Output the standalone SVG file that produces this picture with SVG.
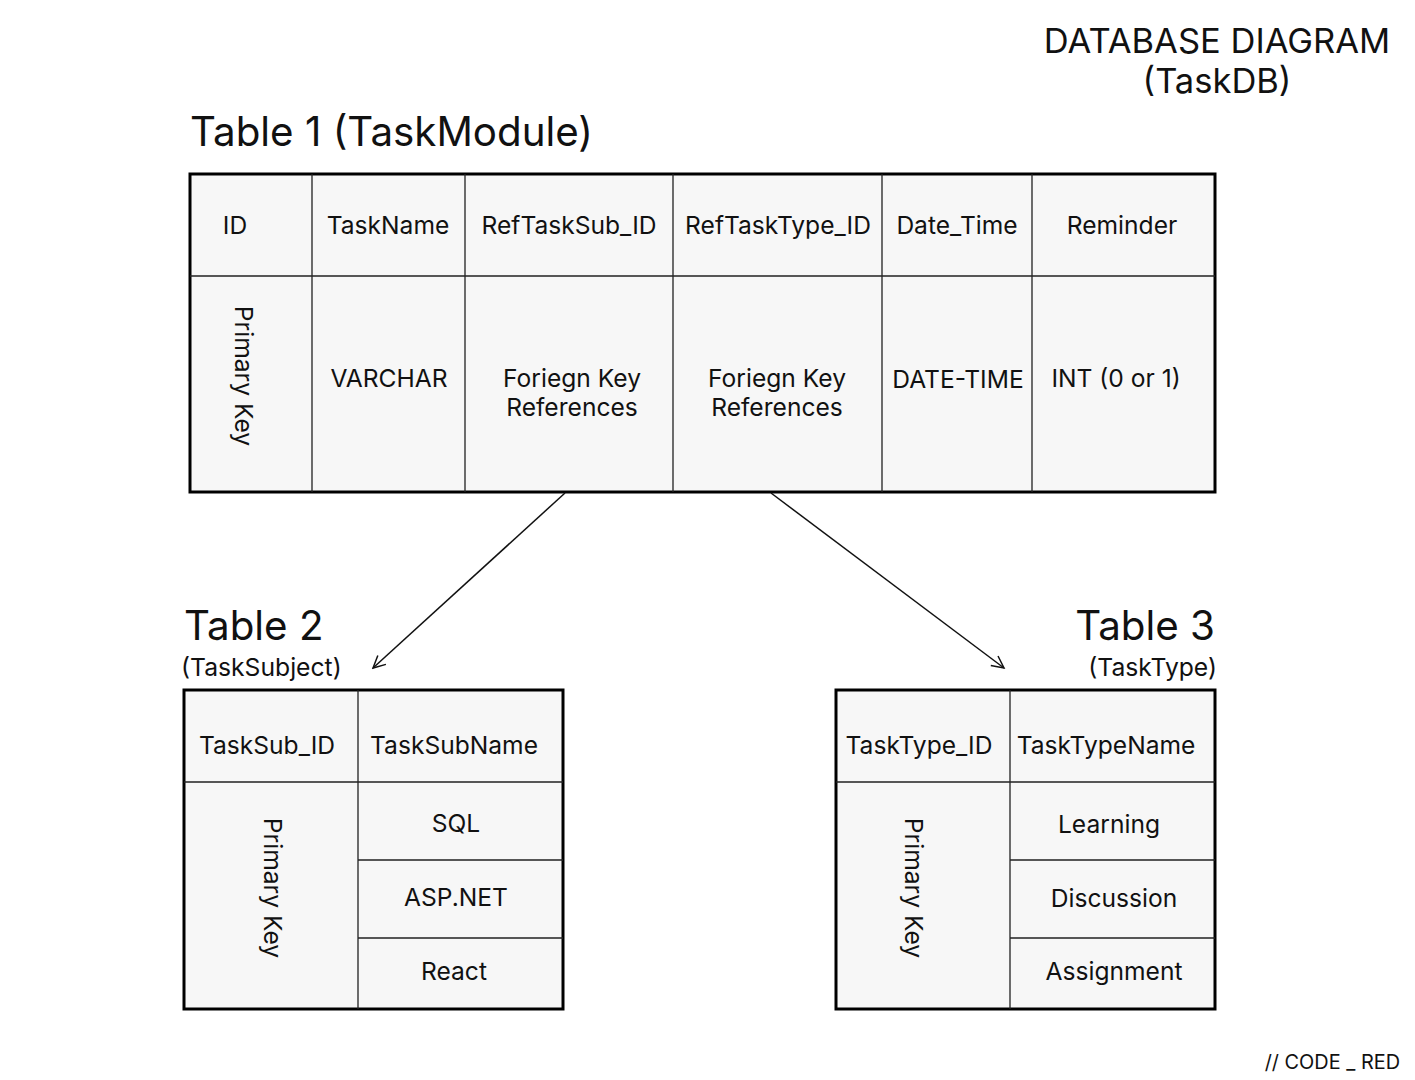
<svg xmlns="http://www.w3.org/2000/svg" width="1415" height="1080" viewBox="0 0 1415 1080">
<defs>
<style>
text{font-family:Inter,"Liberation Sans",sans-serif;fill:#111}
.cell{font-size:24.6px;text-anchor:middle}
.tbl{fill:#f7f7f7;stroke:#000;stroke-width:3}
.ln{stroke:#222;stroke-width:1.3;fill:none}
.title{font-size:40.3px}
.sub{font-size:24.7px}
.conn{stroke:#111;stroke-width:1.5;fill:none}
</style>
<marker id="arr" viewBox="0 0 16 16" refX="14" refY="8" markerWidth="16" markerHeight="16" markerUnits="userSpaceOnUse" orient="auto">
<path d="M2,2 L14,8 L2,14" fill="none" stroke="#111" stroke-width="1.5"/>
</marker>
</defs>
<rect width="1415" height="1080" fill="#fff"/>
<g id="header">
<text x="1217" y="53" font-size="34.5" text-anchor="middle">DATABASE DIAGRAM</text>
<text x="1217" y="93" font-size="34.5" text-anchor="middle">(TaskDB)</text>
</g>
<g id="table1">
<text class="title" x="190" y="146">Table 1 (TaskModule)</text>
<rect class="tbl" x="190" y="174" width="1025" height="318"/>
<path class="ln" d="M190,276H1215M312,174V492M465,174V492M673,174V492M882,174V492M1032,174V492"/>
<text class="cell" x="235" y="234">ID</text>
<text class="cell" x="388" y="234">TaskName</text>
<text class="cell" x="569" y="234">RefTaskSub_ID</text>
<text class="cell" x="778" y="234">RefTaskType_ID</text>
<text class="cell" x="957" y="234">Date_Time</text>
<text class="cell" x="1122" y="234">Reminder</text>
<text class="cell" transform="translate(235,376) rotate(90)">Primary Key</text>
<text class="cell" x="389" y="387">VARCHAR</text>
<text class="cell" x="572" y="387">Foriegn Key</text>
<text class="cell" x="572" y="416">References</text>
<text class="cell" x="777" y="387">Foriegn Key</text>
<text class="cell" x="777" y="416">References</text>
<text class="cell" x="958" y="388">DATE-TIME</text>
<text class="cell" x="1116" y="387">INT (0 or 1)</text>
</g>
<g id="table2">
<text class="title" x="184" y="640">Table 2</text>
<text class="sub" x="181" y="676">(TaskSubject)</text>
<rect class="tbl" x="184" y="690" width="379" height="319"/>
<path class="ln" d="M184,782H563M358,690V1009M358,860H563M358,938H563"/>
<text class="cell" x="267" y="754">TaskSub_ID</text>
<text class="cell" x="454" y="754">TaskSubName</text>
<text class="cell" transform="translate(264,888) rotate(90)">Primary Key</text>
<text class="cell" x="456" y="832">SQL</text>
<text class="cell" x="456" y="906">ASP.NET</text>
<text class="cell" x="454" y="980">React</text>
</g>
<g id="table3">
<text class="title" x="1215" y="640" text-anchor="end">Table 3</text>
<text class="sub" x="1217" y="676" text-anchor="end">(TaskType)</text>
<rect class="tbl" x="836" y="690" width="379" height="319"/>
<path class="ln" d="M836,782H1215M1010,690V1009M1010,860H1215M1010,938H1215"/>
<text class="cell" x="919" y="754">TaskType_ID</text>
<text class="cell" x="1106" y="754">TaskTypeName</text>
<text class="cell" transform="translate(905,888) rotate(90)">Primary Key</text>
<text class="cell" x="1109" y="833">Learning</text>
<text class="cell" x="1114" y="907">Discussion</text>
<text class="cell" x="1114" y="980">Assignment</text>
</g>
<g id="connectors">
<line class="conn" x1="565" y1="493" x2="373" y2="668" marker-end="url(#arr)"/>
<line class="conn" x1="771" y1="493" x2="1004" y2="668" marker-end="url(#arr)"/>
</g>
<text x="1400" y="1069" font-size="19.9" text-anchor="end">// CODE _ RED</text>
</svg>
